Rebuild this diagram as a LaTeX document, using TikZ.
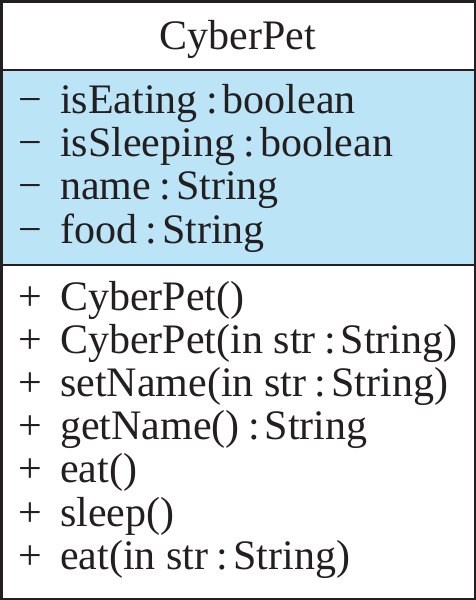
\documentclass[tikz,border=0pt]{standalone}
\usepackage{fontspec}
\setmainfont{Liberation Serif}
\definecolor{attrblue}{RGB}{187,228,247}
\definecolor{inkgray}{RGB}{35,31,32}
\newcommand{\hastype}{\kern.2em:\kern.12em}
\tikzset{
  member/.style={anchor=base west, inner sep=0pt, text=inkgray, font=\fontsize{42}{50}\selectfont},
  frame/.style={line width=2.5pt, draw=inkgray}
}
\begin{document}
\begin{tikzpicture}[x=1pt,y=-1pt]
  \useasboundingbox (0,0) rectangle (476,600);
  % attribute compartment
  \fill[attrblue] (0,70) rectangle (476,265);
  % outer box and dividers
  \draw[frame] (1.25,1.25) rectangle (474.75,598.75);
  \draw[frame] (0,70) -- (476,70);
  \draw[frame] (0,265) -- (476,265);
  % class name
  \node[member, anchor=base] (title) at (238,49) {CyberPet};
  % attributes
  \foreach \txt [count=\i] in {isEating\hastype boolean, isSleeping\hastype boolean,
      name\hastype String, food\hastype String} {
    \node[member] (attrsign\i) at (18,{70+43.3*\i}) {−};
    \node[member] (attr\i) at (60,{70+43.3*\i}) {\txt};
  }
  % operations
  \foreach \txt [count=\i] in {CyberPet(), CyberPet(in str\hastype String), setName(in str\hastype String),
      getName()\hastype String, eat(), sleep(), eat(in str\hastype String)} {
    \node[member] (opsign\i) at (18,{266.8+43.2*\i}) {+};
    \node[member] (op\i) at (60,{266.8+43.2*\i}) {\txt};
  }
\end{tikzpicture}
\end{document}
